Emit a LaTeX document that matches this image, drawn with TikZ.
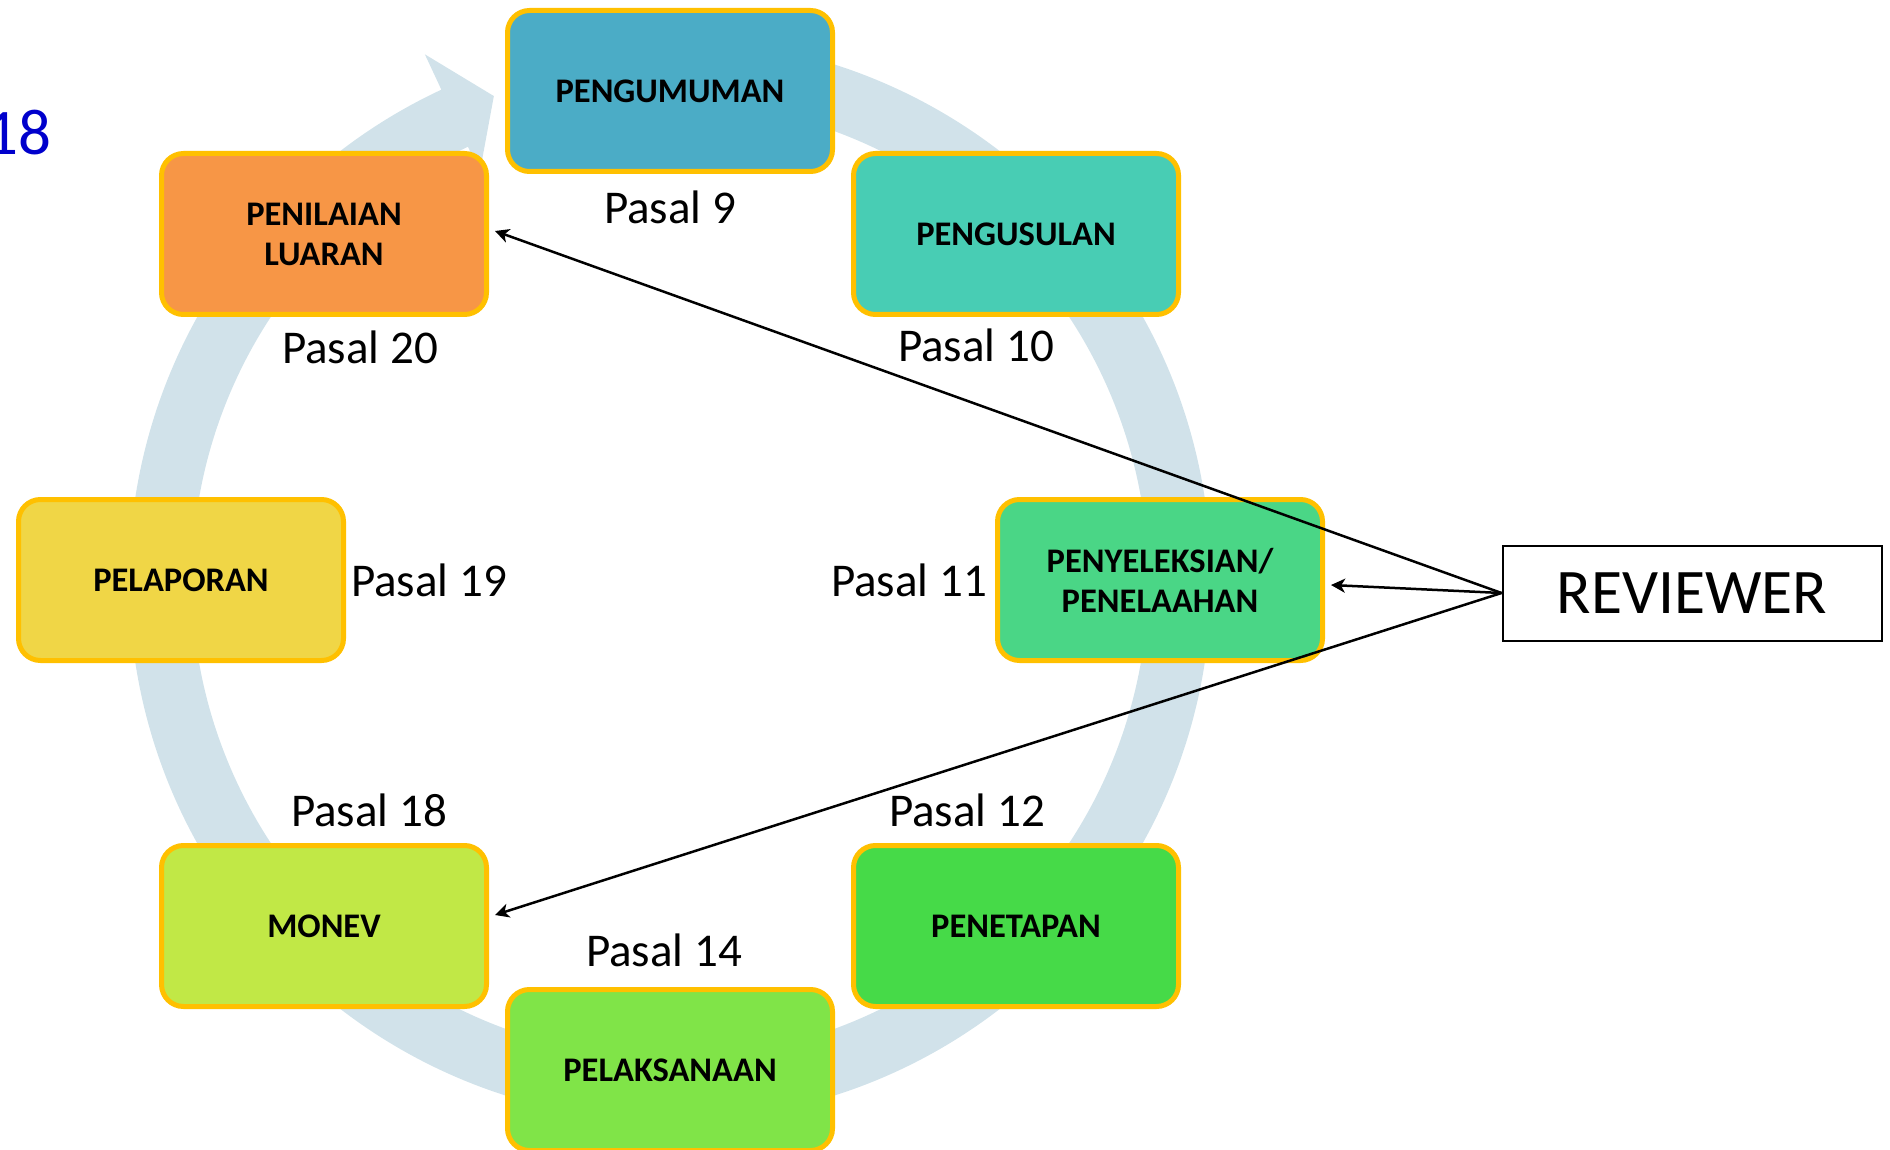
\documentclass[tikz,border=0pt]{standalone}
\usepackage{fontspec}
\setmainfont{Carlito}
\usetikzlibrary{arrows.meta,calc}
\definecolor{ringc}{RGB}{209,226,234}
\definecolor{bordc}{RGB}{255,192,0}
\definecolor{c1}{RGB}{75,172,198}
\definecolor{c2}{RGB}{72,205,180}
\definecolor{c3}{RGB}{74,214,134}
\definecolor{c4}{RGB}{70,218,72}
\definecolor{c5}{RGB}{128,228,72}
\definecolor{c6}{RGB}{193,232,70}
\definecolor{c7}{RGB}{240,214,70}
\definecolor{c8}{RGB}{247,150,70}
\definecolor{blue18}{RGB}{0,0,204}
\begin{document}
\begin{tikzpicture}[x=1pt,y=-1pt,
  stage/.style={draw=bordc, line width=5pt, rounded corners=22pt,
    minimum width=325pt, minimum height=161pt, align=center,
    font=\fontsize{34.5}{40}\selectfont\bfseries, inner sep=0pt},
  pasal/.style={font=\fontsize{47}{50}\selectfont, inner sep=0pt},
  link/.style={line width=2.5pt, -{Stealth[length=14pt,width=14pt,inset=4pt]}}]
\useasboundingbox (0,0) rectangle (1890,1150);
\coordinate (C) at (670,580);
% circular arrow
\fill[ringc] ($(C)+(-95:541)$) arc[start angle=-95,end angle=245,radius=541]
  -- ($(C)+(245:580)$) -- ($(C)+(250:515)$) -- ($(C)+(245:450)$)
  -- ($(C)+(245:478)$) arc[start angle=245,end angle=-95,radius=478] -- cycle;
% stages
\node[stage, fill=c1] (peng) at (670,91) {PENGUMUMAN};
\node[stage, fill=c2] (usul) at (1016,234) {PENGUSULAN};
\node[stage, fill=c3] (sel) at (1160,580) {PENYELEKSIAN/\\PENELAAHAN};
\node[stage, fill=c4] (tetap) at (1016,926) {PENETAPAN};
\node[stage, fill=c5] (laks) at (670,1070) {PELAKSANAAN};
\node[stage, fill=c6] (monev) at (324,926) {MONEV};
\node[stage, fill=c7] (lapor) at (181,580) {PELAPORAN};
\node[stage, fill=c8] (nilai) at (324,234) {PENILAIAN\\LUARAN};
% pasal labels
\node[pasal] (p9) at (670,207) {Pasal 9};
\node[pasal] (p10) at (976,345) {Pasal 10};
\node[pasal] (p20) at (360,347) {Pasal 20};
\node[pasal] (p19) at (429,580) {Pasal 19};
\node[pasal] (p11) at (909,580) {Pasal 11};
\node[pasal] (p18) at (369,810) {Pasal 18};
\node[pasal] (p12) at (967,810) {Pasal 12};
\node[pasal] (p14) at (664,950) {Pasal 14};
% 18
\node[anchor=base east, inner sep=0pt, text=blue18, font=\fontsize{65}{70}\selectfont] (num) at (52,155) {18};
% reviewer
\node[draw, line width=2pt, minimum width=379pt, minimum height=95pt, inner sep=0pt,
  font=\fontsize{63.5}{66}\selectfont] (rev) at (1692,593) {REVIEWER};
% connectors
\draw[link] (rev.west) -- ([xshift=6pt,yshift=3pt]nilai.east);
\draw[link] (rev.west) -- ([xshift=6pt,yshift=-5pt]sel.east);
\draw[link] (rev.west) -- ([xshift=6pt,yshift=11pt]monev.east);
\end{tikzpicture}
\end{document}
